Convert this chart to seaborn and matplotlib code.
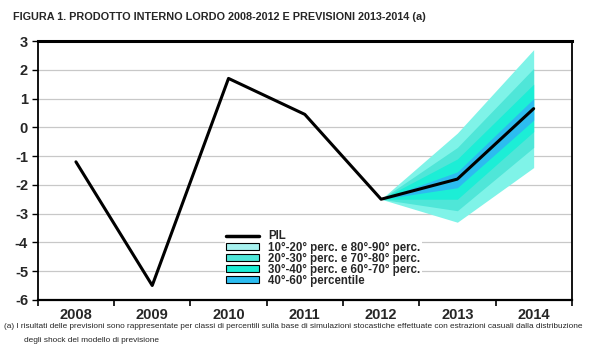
import matplotlib
matplotlib.use("Agg")
import matplotlib.pyplot as plt
import seaborn as sns
import pandas as pd
import numpy as np
from matplotlib.patches import Patch
from matplotlib.lines import Line2D

years = [2008, 2009, 2010, 2011, 2012, 2013, 2014]
pil = [-1.2, -5.5, 1.7, 0.45, -2.5, -1.8, 0.65]

fan_years = [2012, 2013, 2014]
p10 = [-2.5, -3.3, -1.4]
p20 = [-2.5, -2.9, -0.7]
p30 = [-2.5, -2.5, -0.15]
p40 = [-2.5, -2.1, 0.25]
p60 = [-2.5, -1.55, 1.0]
p70 = [-2.5, -1.1, 1.5]
p80 = [-2.5, -0.7, 2.05]
p90 = [-2.5, -0.2, 2.7]

labels = ["PIL", "10°-20° perc. e 80°-90° perc.", "20°-30° perc. e 70°-80° perc.",
          "30°-40° perc. e 60°-70° perc.", "40°-60° percentile"]
yticks = [3, 2, 1, 0, -1, -2, -3, -4, -5, -6]

sns.set_theme(style="white")
plt.rcParams['font.family'] = ['Liberation Sans', 'DejaVu Sans']

fig = plt.figure(figsize=(6, 3.6), dpi=100)
ax = fig.add_axes([0.063, 0.167, 0.89, 0.719])

c1, c2, c3, c4 = "#7ff3e8", "#4fe6d8", "#1ceed6", "#2cbcf0"
ax.fill_between(fan_years, p10, p90, color=c1, lw=0, zorder=2)
ax.fill_between(fan_years, p20, p80, color=c2, lw=0, zorder=3)
ax.fill_between(fan_years, p30, p70, color=c3, lw=0, zorder=4)
ax.fill_between(fan_years, p40, p60, color=c4, lw=0, zorder=5)

df = pd.DataFrame({"anno": years, "PIL": pil})
sns.lineplot(data=df, x="anno", y="PIL", ax=ax, color="black", lw=2.2, zorder=6)

ax.set_xlim(2007.5, 2014.5)
ax.set_ylim(-6, 3)
ax.set_yticks(yticks)
ax.set_yticklabels([str(v) for v in yticks], fontsize=10.5, fontweight="bold")
ax.set_xticks(years)
ax.set_xticklabels([str(y) for y in years], fontsize=10.5, fontweight="bold")
ax.set_xticks(np.arange(2007.5, 2015, 1), minor=True)
ax.tick_params(axis="x", which="major", length=0, pad=6)
ax.tick_params(axis="x", which="minor", length=4, width=1.2, color="black", direction="out", bottom=True)
ax.tick_params(axis="y", length=4, width=1, color="black", direction="out", left=True, pad=3)
ax.set_xlabel("")
ax.set_ylabel("")
ax.yaxis.grid(True, color="#c8c8c8", lw=0.9, zorder=0)
ax.set_axisbelow(True)
for s in ax.spines.values():
    s.set_color("black")
    s.set_linewidth(1.3)
ax.spines["top"].set_linewidth(2.2)
ax.spines["bottom"].set_linewidth(1.6)

handles = [Line2D([], [], color="black", lw=2.5),
           Patch(facecolor="#a8f2f0", edgecolor="black", lw=0.8),
           Patch(facecolor=c2, edgecolor="black", lw=0.8),
           Patch(facecolor=c3, edgecolor="black", lw=0.8),
           Patch(facecolor=c4, edgecolor="black", lw=0.8)]
leg = ax.legend(handles, labels, loc="upper left", bbox_to_anchor=(0.35, 0.275),
                frameon=True, framealpha=1, edgecolor="none", facecolor="white",
                labelspacing=-0.08, handlelength=2.8, handleheight=0.6,
                handletextpad=0.8, borderpad=0.15, borderaxespad=0,
                prop={"weight": "bold", "size": 8.3})
leg.set_zorder(7)

fig.text(0.021, 0.952, "FIGURA 1. PRODOTTO INTERNO LORDO 2008-2012 E PREVISIONI 2013-2014 (a)",
         fontsize=7.8, fontweight="bold", va="center")
fig.text(0.007, 0.093, "(a) I risultati delle previsioni sono rappresentate per classi di percentili sulla base di simulazioni stocastiche effettuate con estrazioni casuali dalla distribuzione",
         fontsize=5.95, va="center")
fig.text(0.04, 0.055, "degli shock del modello di previsione",
         fontsize=5.95, va="center")

fig.savefig("out.png", dpi=100, facecolor="white")
